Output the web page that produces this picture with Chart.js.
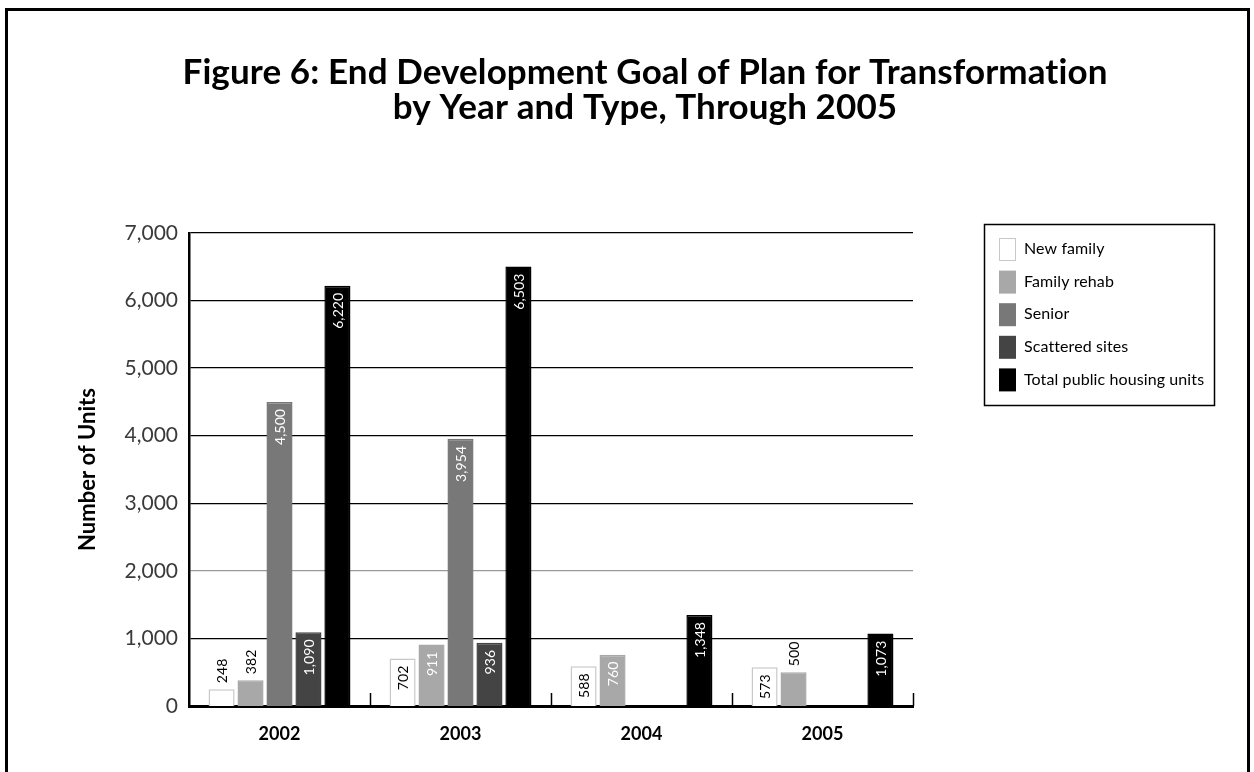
<!DOCTYPE html>
<html>
<head>
<meta charset="utf-8">
<script src="https://cdn.jsdelivr.net/npm/chart.js@4.4.1/dist/chart.umd.min.js"></script>
<style>
  html, body { margin: 0; padding: 0; background: #fff; overflow: hidden; }
  #frame { position: absolute; left: 5px; top: 8px; width: 1245px; height: 800px;
           border: 3px solid #000; box-sizing: border-box; }
  #wrap { position: absolute; left: 0; top: 0; width: 1254px; height: 772px; }
</style>
</head>
<body>
<div id="frame"></div>
<div id="wrap"><canvas id="chart" width="1254" height="772"></canvas></div>
<script>
// Figure data
const years = ['2002', '2003', '2004', '2005'];
const newFamily = [248, 702, 588, 573];
const familyRehab = [382, 911, 760, 500];
const senior = [4500, 3954, null, null];
const scatteredSites = [1090, 936, null, null];
const totalUnits = [6220, 6503, 1348, 1073];
const yTicks = [0, 1000, 2000, 3000, 4000, 5000, 6000, 7000];
const titleLines = ['Figure 6: End Development Goal of Plan for Transformation',
                    'by Year and Type, Through 2005'];

const FONT = 'Lato, "Open Sans", sans-serif';

const series = [
  { label: 'New family', data: newFamily, fill: '#ffffff', border: '#c8c8c8', text: '#000' },
  { label: 'Family rehab', data: familyRehab, fill: '#a8a8a8', border: '#a8a8a8', text: '#fff' },
  { label: 'Senior', data: senior, fill: '#787878', border: '#787878', text: '#fff' },
  { label: 'Scattered sites', data: scatteredSites, fill: '#444444', border: '#444444', text: '#fff' },
  { label: 'Total public housing units', data: totalUnits, fill: '#000000', border: '#000000', text: '#fff' }
];

// short bars get their value written above the bar instead of inside it
const INSIDE_MIN = 570;

const fmt = v => v.toLocaleString('en-US');

// a hair of letter spacing keeps the canvas from joining letters into ligatures
const noLigatures = ctx => { if ('letterSpacing' in ctx) ctx.letterSpacing = '0.1px'; };

const decorations = {
  id: 'decorations',
  afterDatasetsDraw(chart) {
    const ctx = chart.ctx;
    const x = chart.scales.x;
    const area = chart.chartArea;

    // value labels, rotated to read upward
    ctx.save();
    ctx.font = '14px ' + FONT;
    noLigatures(ctx);
    ctx.textBaseline = 'middle';
    chart.data.datasets.forEach((ds, di) => {
      const meta = chart.getDatasetMeta(di);
      meta.data.forEach((bar, i) => {
        const v = ds.data[i];
        if (v === null || v === undefined) return;
        const inside = v >= INSIDE_MIN;
        ctx.save();
        ctx.translate(bar.x, inside ? bar.y + 7 : bar.y - 6);
        ctx.rotate(-Math.PI / 2);
        ctx.fillStyle = inside ? series[di].text : '#000';
        ctx.textAlign = inside ? 'right' : 'left';
        ctx.fillText(fmt(v), 0, 1);
        ctx.restore();
      });
    });
    ctx.restore();

    // inward category separator ticks on the baseline
    ctx.save();
    ctx.strokeStyle = '#000';
    ctx.lineWidth = 1.5;
    const n = chart.data.labels.length;
    const half = (x.getPixelForValue(1) - x.getPixelForValue(0)) / 2;
    for (let i = 0; i < n; i++) {
      const px = Math.round(x.getPixelForValue(i) + half) + 0.5;
      ctx.beginPath();
      ctx.moveTo(px, area.bottom);
      ctx.lineTo(px, area.bottom - 13);
      ctx.stroke();
    }
    ctx.restore();
  },
  afterDraw(chart) {
    const ctx = chart.ctx;
    // title
    ctx.save();
    ctx.fillStyle = '#000';
    ctx.font = 'bold 35px ' + FONT;
    noLigatures(ctx);
    ctx.textAlign = 'center';
    ctx.textBaseline = 'middle';
    ctx.fillText(titleLines[0], 645, 73);
    ctx.fillText(titleLines[1], 645, 108);
    ctx.restore();

    // legend box
    const lx = 984, ly = 224, lw = 230, lh = 181;
    ctx.save();
    ctx.strokeStyle = '#000';
    ctx.lineWidth = 1.5;
    ctx.strokeRect(lx + 0.5, ly + 0.5, lw, lh);
    ctx.font = '16px ' + FONT;
    noLigatures(ctx);
    ctx.textBaseline = 'middle';
    ctx.textAlign = 'left';
    chart.data.datasets.forEach((ds, i) => {
      const cy = 249 + i * 32.6;
      ctx.fillStyle = ds.backgroundColor;
      ctx.fillRect(999, cy - 11, 17, 23);
      if (ds.backgroundColor === '#ffffff') {
        ctx.strokeStyle = '#c8c8c8';
        ctx.lineWidth = 1;
        ctx.strokeRect(999.5, cy - 10.5, 16, 22);
      }
      ctx.fillStyle = '#000';
      ctx.fillText(ds.label, 1024, cy);
    });
    ctx.restore();
  }
};

new Chart(document.getElementById('chart'), {
  type: 'bar',
  data: {
    labels: years,
    datasets: series.map(s => ({
      label: s.label,
      data: s.data,
      backgroundColor: s.fill,
      borderColor: s.border,
      borderWidth: 1.5,
      borderSkipped: 'bottom'
    }))
  },
  options: {
    responsive: false,
    animation: false,
    devicePixelRatio: 1,
    layout: { padding: { top: 233, left: 75, right: 341, bottom: 20 } },
    datasets: { bar: { categoryPercentage: 0.8, barPercentage: 0.9 } },
    plugins: {
      legend: { display: false },
      title: { display: false },
      tooltip: { enabled: false }
    },
    scales: {
      x: {
        grid: { display: false, drawTicks: false },
        border: { display: true, color: '#000', width: 3 },
        ticks: { color: '#000', font: { family: FONT, size: 18, weight: 'bold' }, padding: 17 },
        afterFit(scale) { scale.height = 46; }
      },
      y: {
        min: 0,
        max: 7000,
        afterBuildTicks(scale) { scale.ticks = yTicks.map(v => ({ value: v })); },
        grid: {
          drawTicks: false,
          color: ctx => (ctx.tick && ctx.tick.value === 2000 ? '#9a9a9a' : '#000'),
          lineWidth: ctx => (ctx.tick && ctx.tick.value === 0 ? 0 : 1.3)
        },
        border: { display: true, color: '#000', width: 2.5 },
        ticks: {
          color: '#3a3a3a',
          padding: 11,
          font: { family: FONT, size: 21 },
          callback: v => fmt(v)
        },
        title: {
          display: true,
          text: 'Number of Units',
          color: '#000',
          font: { family: FONT, size: 22, weight: 'bold' },
          padding: { top: 0, bottom: 0 }
        },
        afterFit(scale) { scale.width = 189 - 75; }
      }
    }
  },
  plugins: [decorations]
});
</script>
</body>
</html>
